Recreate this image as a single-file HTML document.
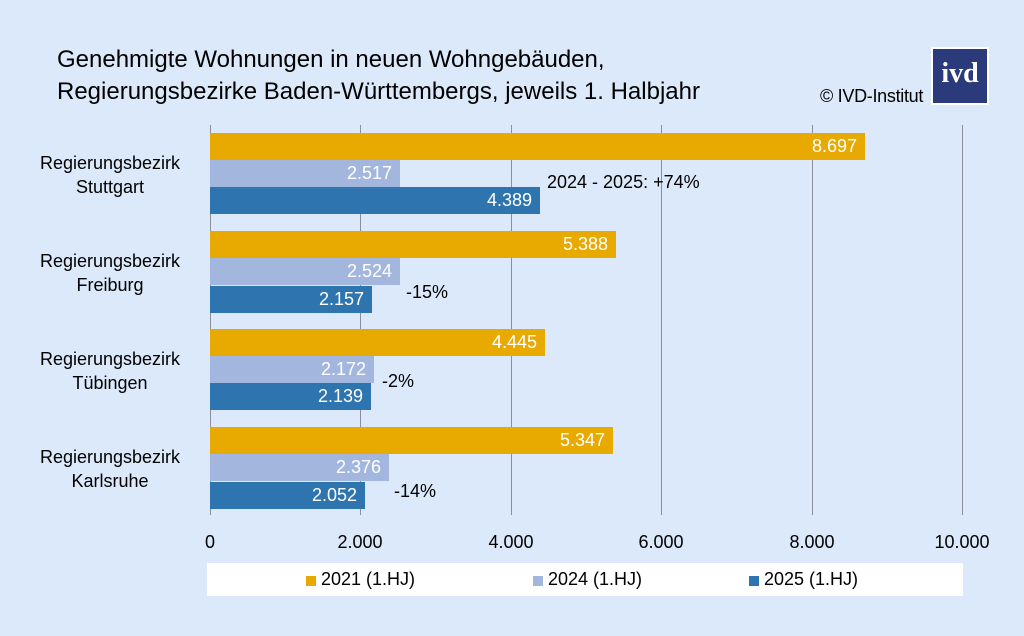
<!DOCTYPE html><html><head><meta charset="utf-8"><style>
body{margin:0;width:1024px;height:636px;background:#dce9fa;font-family:"Liberation Sans",sans-serif;position:relative;overflow:hidden}
div{position:absolute}
.g{width:1px;top:125px;height:390px;background:#8a8f99}
.b{left:210px;height:27px;color:#fff;font-size:18px;text-align:right;box-sizing:border-box;padding-right:8px;line-height:27px}
.y{background:#e8a900}.l{background:#a3b7de}.d{background:#2e75b0}
.c{left:15px;width:190px;text-align:center;font-size:18px;line-height:24px;color:#000}
.t{font-size:18px;top:532px;width:100px;text-align:center}
.a{font-size:18px;color:#000}
</style></head><body>
<div style="left:57px;top:44px;font-size:24px;line-height:32px">Genehmigte Wohnungen in neuen Wohngebäuden,<br>Regierungsbezirke Baden-Württembergs, jeweils 1. Halbjahr</div>
<div style="left:820px;top:86px;font-size:18px;letter-spacing:-0.3px">© IVD-Institut</div>
<div style="left:931px;top:47px;width:54px;height:54px;background:#2b3a7a;border:2px solid #fff;color:#fff;font-size:28px;font-family:'Liberation Serif',serif;font-weight:bold;text-align:center;line-height:50px">ivd</div>
<div class="g" style="left:210px"></div><div class="g" style="left:360px"></div><div class="g" style="left:511px"></div><div class="g" style="left:661px"></div><div class="g" style="left:812px"></div><div class="g" style="left:962px"></div>
<div class="b y" style="top:133px;width:655px">8.697</div>
<div class="b l" style="top:160px;width:190px">2.517</div>
<div class="b d" style="top:187px;width:330px">4.389</div>
<div class="b y" style="top:231px;width:406px">5.388</div>
<div class="b l" style="top:258px;width:190px">2.524</div>
<div class="b d" style="top:286px;width:162px">2.157</div>
<div class="b y" style="top:329px;width:335px">4.445</div>
<div class="b l" style="top:356px;width:164px">2.172</div>
<div class="b d" style="top:383px;width:161px">2.139</div>
<div class="b y" style="top:427px;width:403px">5.347</div>
<div class="b l" style="top:454px;width:179px">2.376</div>
<div class="b d" style="top:482px;width:155px">2.052</div>
<div class="a" style="left:547px;top:172px">2024 - 2025: +74%</div>
<div class="a" style="left:406px;top:282px">-15%</div>
<div class="a" style="left:382px;top:371px">-2%</div>
<div class="a" style="left:394px;top:481px">-14%</div>
<div class="c" style="top:151px">Regierungsbezirk<br>Stuttgart</div>
<div class="c" style="top:249px">Regierungsbezirk<br>Freiburg</div>
<div class="c" style="top:347px">Regierungsbezirk<br>Tübingen</div>
<div class="c" style="top:445px">Regierungsbezirk<br>Karlsruhe</div>
<div class="t" style="left:160px">0</div><div class="t" style="left:310px">2.000</div><div class="t" style="left:461px">4.000</div><div class="t" style="left:611px">6.000</div><div class="t" style="left:762px">8.000</div><div class="t" style="left:912px">10.000</div>
<div style="left:207px;top:563px;width:756px;height:33px;background:#fff"></div>
<div style="left:306px;top:576px;width:10px;height:10px;background:#e8a900"></div><div class="a" style="left:321px;top:569px">2021 (1.HJ)</div>
<div style="left:533px;top:576px;width:10px;height:10px;background:#a3b7de"></div><div class="a" style="left:548px;top:569px">2024 (1.HJ)</div>
<div style="left:749px;top:576px;width:10px;height:10px;background:#2e75b0"></div><div class="a" style="left:764px;top:569px">2025 (1.HJ)</div>
</body></html>
